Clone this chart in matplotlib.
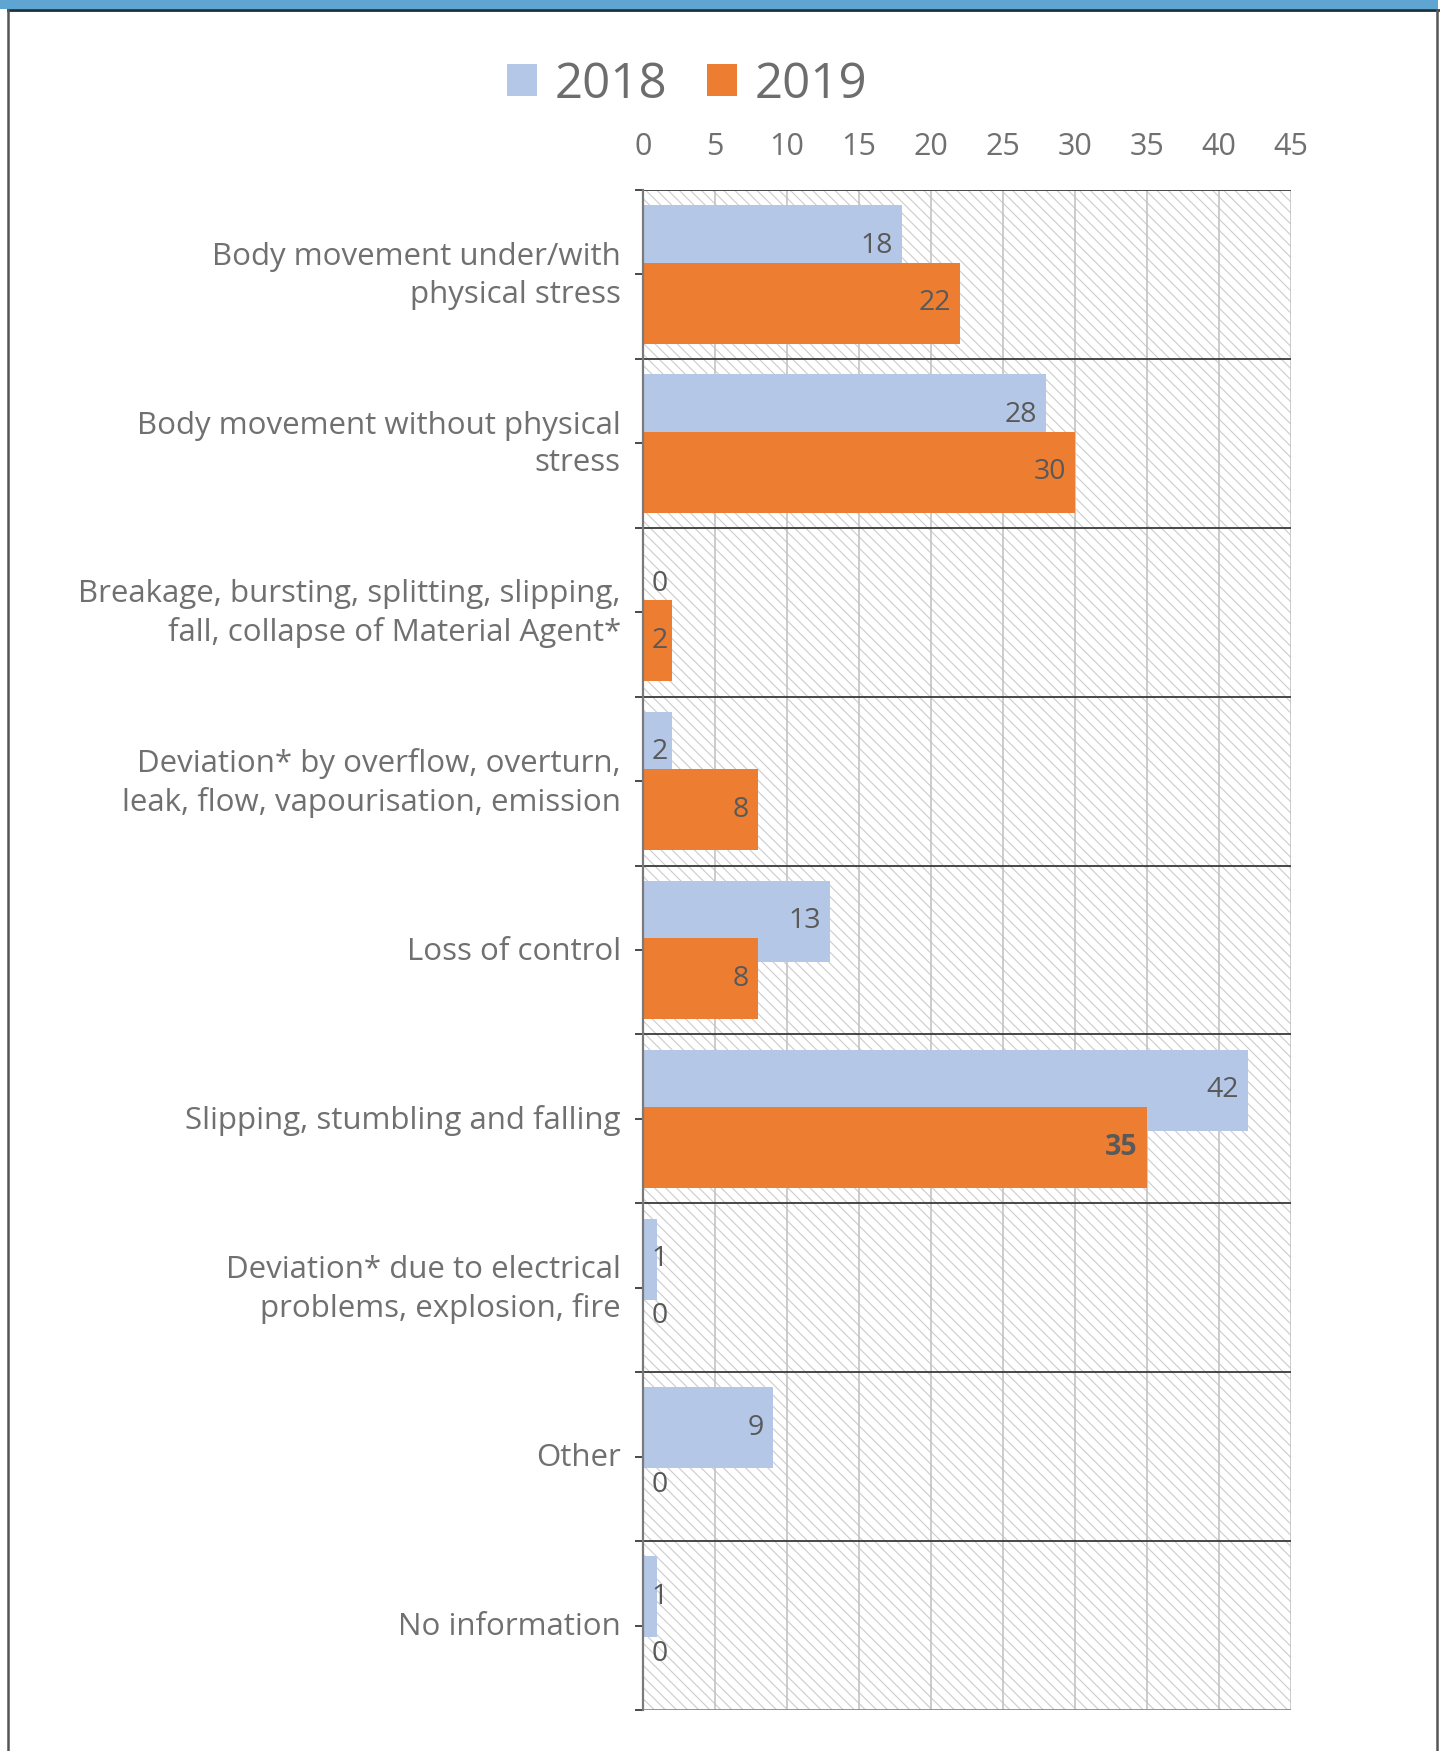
import matplotlib
matplotlib.use('Agg')
import matplotlib.pyplot as plt
import matplotlib.transforms as mtransforms
from matplotlib.patches import Rectangle
from matplotlib.lines import Line2D
import numpy as np

categories = [
    "Body movement under/with\nphysical stress",
    "Body movement without physical\nstress",
    "Breakage, bursting, splitting, slipping,\nfall, collapse of Material Agent*",
    "Deviation* by overflow, overturn,\nleak, flow, vapourisation, emission",
    "Loss of control",
    "Slipping, stumbling and falling",
    "Deviation* due to electrical\nproblems, explosion, fire",
    "Other",
    "No information",
]
series_names = ["2018", "2019"]
vals_2018 = [18, 28, 0, 2, 13, 42, 1, 9, 1]
vals_2019 = [22, 30, 2, 8, 8, 35, 0, 0, 0]
xticks = [0, 5, 10, 15, 20, 25, 30, 35, 40, 45]

plt.rcParams['font.family'] = ['Open Sans', 'DejaVu Sans']
plt.rcParams['hatch.linewidth'] = 0.8

W, H = 1445, 1751
fig = plt.figure(figsize=(W / 100, H / 100), dpi=100)
ax = fig.add_axes([643 / W, 1 - 1710 / H, (1291 - 643) / W, (1710 - 190) / H])
ax.set_facecolor('white')

# hatched background
ax.add_patch(Rectangle((0, 0), 1, 1, transform=ax.transAxes, facecolor='white',
                       edgecolor='#cccccc', hatch='\\\\\\', lw=0, zorder=0))

y = np.arange(len(categories))
off, h = 0.17, 0.48
b1 = ax.barh(y - off, vals_2018, height=h, color='#b4c7e7', zorder=3, label=series_names[0])
b2 = ax.barh(y + off, vals_2019, height=h, color='#ed7d31', zorder=4, label=series_names[1])

ax.set_xlim(0, 45)
ax.set_ylim(len(categories) - 0.5, -0.5)

# gridlines
for xv in xticks[1:]:
    ax.axvline(xv, color='#c3c3c3', lw=1.2, zorder=1)
for yb in np.arange(-0.5, len(categories) - 0.5, 1.0):
    ax.axhline(yb, color='#3a3a3a', lw=1.3, zorder=2)
ax.axhline(len(categories) - 0.5, color='#8a8a8a', lw=2, zorder=2)

for s in ['top', 'right', 'bottom']:
    ax.spines[s].set_visible(False)
ax.spines['left'].set_color('#7a7a7a')
ax.spines['left'].set_linewidth(1.6)
ax.spines['left'].set_zorder(5)

# x ticks on top
ax.xaxis.tick_top()
ax.set_xticks(xticks)
ax.set_xticklabels([str(t) for t in xticks])
ax.tick_params(axis='x', length=0, pad=20, labelsize=22, labelcolor='#707070')

# y ticks
ax.set_yticks(y)
ax.set_yticklabels(categories)
ax.set_yticks(np.arange(-0.5, len(categories), 1.0), minor=True)
ax.tick_params(axis='y', which='both', length=6, width=1.3, color='#3a3a3a',
               direction='out')
ax.tick_params(axis='y', which='major', pad=10, labelsize=22.5, labelcolor='#707070')
for lab in ax.get_yticklabels():
    lab.set_linespacing(1.33)
    lab.set_ha('right')
    dy = 6 if '\n' in lab.get_text() else 2
    lab.set_transform(lab.get_transform() +
                      mtransforms.ScaledTranslation(0, dy / 100, fig.dpi_scale_trans))

# data labels
max19 = max(vals_2019)
for vals, yo, name in [(vals_2018, -off, series_names[0]), (vals_2019, off, series_names[1])]:
    for i, v in enumerate(vals):
        weight = 'bold' if (name == '2019' and v == max19) else 'normal'
        ax.annotate(str(v), xy=(max(v, 2.35), i + yo), xytext=(-9, 0),
                    textcoords='offset pixels', ha='right', va='center',
                    fontsize=20.5, color='#595959', fontweight=weight, zorder=6)

# legend
leg = fig.legend(handles=[b1, b2], loc='center', bbox_to_anchor=(687 / W, 1 - 85 / H),
                 ncol=2, frameon=False, fontsize=35.5, handlelength=0.62, handleheight=0.62,
                 handletextpad=0.35, columnspacing=0.8)
for t in leg.get_texts():
    t.set_color('#6d6d6d')

# outer frame
fig.add_artist(Rectangle((0, 1 - 9 / H), 1438 / W, 9 / H, transform=fig.transFigure,
                         facecolor='#5ea6d1', edgecolor='none'))
fig.add_artist(Line2D([8 / W, 1438 / W], [1 - 10 / H, 1 - 10 / H], transform=fig.transFigure,
                      color='#1e2f3c', lw=2))
fig.add_artist(Line2D([8 / W, 8 / W], [0, 1 - 10 / H], transform=fig.transFigure,
                      color='#555555', lw=1.8))
fig.add_artist(Line2D([1437 / W, 1437 / W], [0, 1 - 10 / H], transform=fig.transFigure,
                      color='#555555', lw=1.8))

fig.savefig('out.png', dpi=100)
